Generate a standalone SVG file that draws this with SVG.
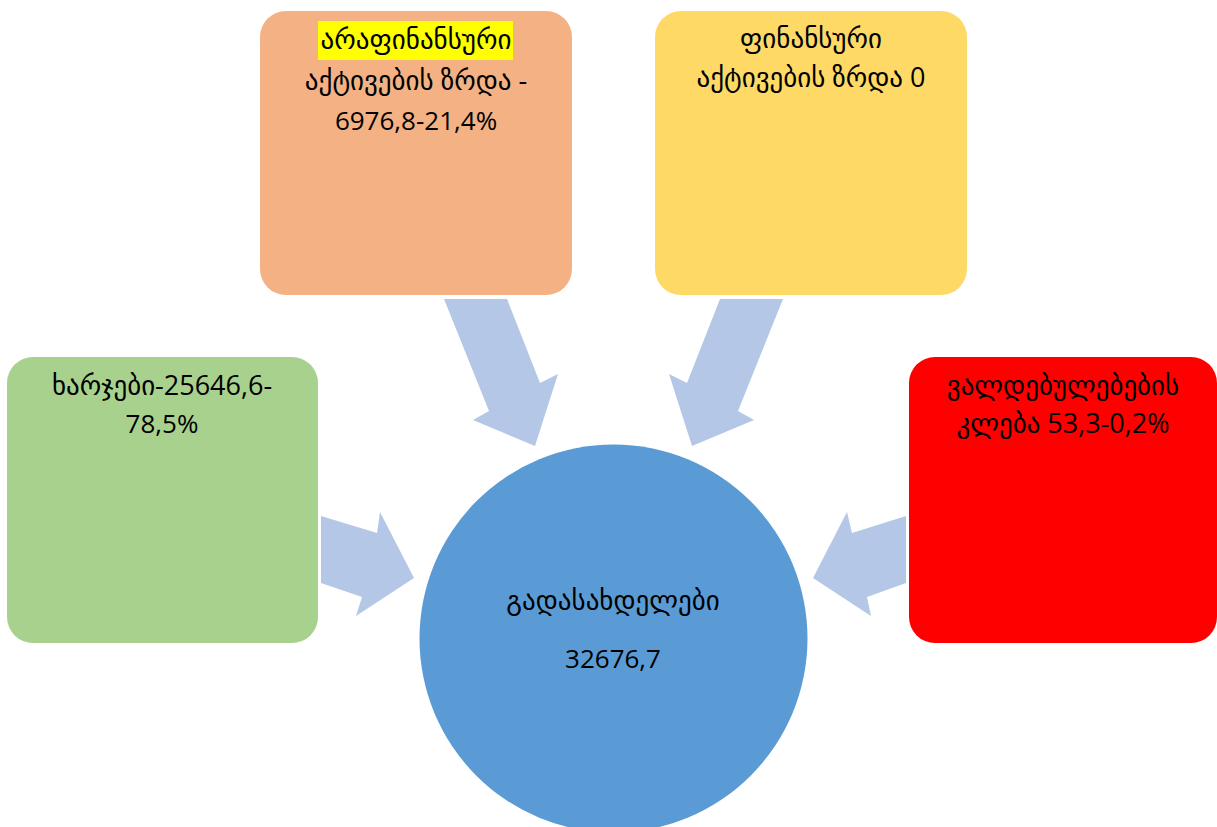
<svg xmlns="http://www.w3.org/2000/svg" width="1217" height="827" viewBox="0 0 1217 827">
<style>
.t{font-family:"Open Sans","DejaVu Sans",sans-serif;font-size:27px;fill:#000;text-anchor:middle}
.d{font-size:26px}
.arr{fill:#B4C7E7}
</style>
<rect width="1217" height="827" fill="#fff"/>
<g id="connectors">
<polygon class="arr" points="444,299 507,299 540,383 558,374 535,446 473,420 489,411"/>
<polygon class="arr" points="783,299 720,299 687,383 669,374 692,446 754,420 738,411"/>
<polygon class="arr" points="321,516 377,533 380,512 414,578 356,616 362,597 321,583"/>
<polygon class="arr" points="906,516 852,533 847,512 813,578 871,616 867,597 906,583"/>
</g>
<g id="node-nonfinancial">
<rect x="260" y="11" width="312" height="284" rx="26" fill="#F4B183"/>
<rect x="318" y="21" width="195" height="39" fill="#FFFF00"/>
<text class="t" x="416" y="49">არაფინანსური</text>
<text class="t" x="416" y="90">აქტივების ზრდა -</text>
<text class="t d" x="416" y="130">6976,8-21,4%</text>
</g>
<g id="node-financial">
<rect x="655" y="11" width="312" height="284" rx="26" fill="#FFD966"/>
<text class="t" x="811" y="48">ფინანსური</text>
<text class="t" x="811" y="87">აქტივების ზრდა 0</text>
</g>
<g id="node-expenses">
<rect x="7" y="357" width="311" height="286" rx="26" fill="#A9D18E"/>
<text class="t" x="162" y="395">ხარჯები-25646,6-</text>
<text class="t d" x="162" y="433">78,5%</text>
</g>
<g id="node-liabilities">
<rect x="909" y="357" width="308" height="286" rx="26" fill="#FF0000"/>
<text class="t" x="1063" y="395">ვალდებულებების</text>
<text class="t" x="1063" y="433">კლება 53,3-0,2%</text>
</g>
<g id="node-payments">
<circle cx="613.5" cy="638.5" r="194" fill="#5B9BD5"/>
<text class="t" x="613" y="610">გადასახდელები</text>
<text class="t d" x="613" y="668">32676,7</text>
</g>
</svg>
